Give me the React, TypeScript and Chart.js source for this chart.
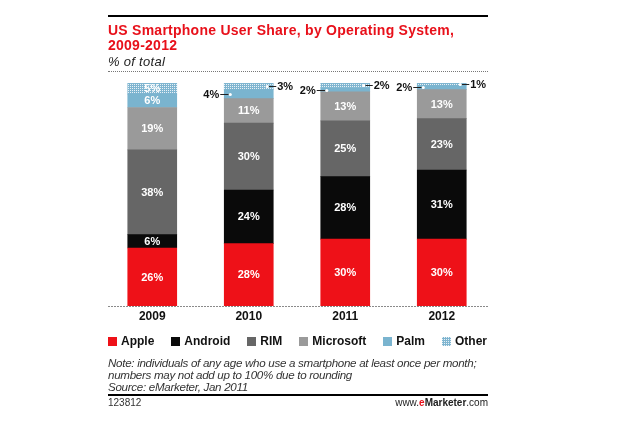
import React, { useEffect, useRef } from 'react';
import { Chart, registerables } from 'chart.js';

Chart.register(...registerables);

const years = ['2009', '2010', '2011', '2012'];
const apple = [26, 28, 30, 30];
const android = [6, 24, 28, 31];
const rim = [38, 30, 25, 23];
const microsoft = [19, 11, 13, 13];
const palm = [6, 4, 2, 2];
const other = [5, 3, 2, 1];
const seriesNames = ['Apple', 'Android', 'RIM', 'Microsoft', 'Palm', 'Other'];

const FONT = '"Liberation Sans", Arial, sans-serif';
const COLORS = ['#ee1118', '#0a0a0a', '#666666', '#9a9a9a', '#7ab4cf', 'pattern'];

function makePattern(): CanvasPattern | string {
  const c = document.createElement('canvas');
  c.width = 2;
  c.height = 2;
  const g = c.getContext('2d');
  if (!g) return '#a9cde0';
  g.fillStyle = '#7fb5d0';
  g.fillRect(0, 0, 2, 2);
  g.fillStyle = '#e8f1f6';
  g.fillRect(0, 0, 1, 1);
  return g.createPattern(c, 'repeat') || '#a9cde0';
}

const labelPlugin = {
  id: 'segLabels',
  afterDatasetsDraw(chart: any) {
    const ctx = chart.ctx as CanvasRenderingContext2D;
    ctx.save();
    // baseline
    ctx.strokeStyle = '#8a8a8a';
    ctx.lineWidth = 1;
    ctx.setLineDash([2, 1]);
    ctx.beginPath();
    ctx.moveTo(108, Math.round(chart.chartArea.bottom) + 0.5);
    ctx.lineTo(488, Math.round(chart.chartArea.bottom) + 0.5);
    ctx.stroke();
    ctx.setLineDash([]);

    ctx.font = `bold 11px ${FONT}`;
    ctx.textBaseline = 'middle';
    chart.data.datasets.forEach((ds: any, i: number) => {
      const meta = chart.getDatasetMeta(i);
      meta.data.forEach((el: any, j: number) => {
        const v = ds.data[j] as number;
        const { x, y, base, width } = el.getProps(['x', 'y', 'base', 'width'], true);
        const cy = (y + base) / 2;
        const left = x - width / 2;
        const right = x + width / 2;
        const text = v + '%';
        let side: string | null = null;
        if (v < 5) side = i === 4 ? 'left' : i === 5 ? 'right' : null;
        if (!side) {
          ctx.fillStyle = '#ffffff';
          ctx.textAlign = 'center';
          ctx.fillText(text, x, cy + 0.5);
          return;
        }
        ctx.strokeStyle = '#222';
        ctx.lineWidth = 1;
        ctx.fillStyle = '#111';
        const ly = Math.round(cy) + 0.5;
        if (side === 'left') {
          ctx.beginPath();
          ctx.moveTo(left - 4, ly);
          ctx.lineTo(left + 6, ly);
          ctx.stroke();
          ctx.textAlign = 'right';
          ctx.fillText(text, left - 5, cy + 1);
          ctx.fillStyle = '#fff';
          ctx.beginPath();
          ctx.arc(left + 6, ly, 1.6, 0, Math.PI * 2);
          ctx.fill();
        } else {
          ctx.beginPath();
          ctx.moveTo(right - 6, ly);
          ctx.lineTo(right + 3, ly);
          ctx.stroke();
          ctx.textAlign = 'left';
          ctx.fillText(text, right + 4, cy + 1);
          ctx.fillStyle = '#fff';
          ctx.beginPath();
          ctx.arc(right - 6, ly, 1.6, 0, Math.PI * 2);
          ctx.fill();
        }
      });
    });
    ctx.restore();
  },
};

export default function App() {
  const ref = useRef<HTMLCanvasElement | null>(null);

  useEffect(() => {
    if (!ref.current) return;
    const pattern = makePattern();
    const values = [apple, android, rim, microsoft, palm, other];
    const chart = new Chart(ref.current, {
      type: 'bar',
      data: {
        labels: years,
        datasets: seriesNames.map((name, i) => ({
          label: name,
          data: values[i],
          backgroundColor: COLORS[i] === 'pattern' ? (pattern as any) : COLORS[i],
          borderWidth: 0,
          barThickness: 49,
        })),
      },
      options: {
        responsive: false,
        animation: false,
        events: [],
        layout: { padding: { left: 104, right: 129, top: 83, bottom: 97.6 } },
        plugins: {
          legend: { display: false },
          tooltip: { enabled: false },
        },
        scales: {
          x: {
            stacked: true,
            grid: { display: false, drawTicks: false },
            border: { display: false },
            ticks: {
              padding: 3,
              color: '#111',
              font: { family: FONT, size: 12, weight: 'bold', lineHeight: 1.2 },
            },
          },
          y: {
            stacked: true,
            display: false,
            min: 0,
            max: 100,
          },
        },
      },
      plugins: [labelPlugin],
    } as any);
    return () => chart.destroy();
  }, []);

  const legendBox = (i: number): React.CSSProperties =>
    COLORS[i] === 'pattern'
      ? {
          width: 9,
          height: 9,
          marginRight: 4,
          backgroundColor: '#7fb5d0',
          backgroundImage:
            'linear-gradient(to bottom, transparent 1px, #7fb5d0 1px), linear-gradient(to right, #e8f1f6 1px, transparent 1px)',
          backgroundSize: '2px 2px',
        }
      : { width: 9, height: 9, marginRight: 4, background: COLORS[i] };

  return (
    <div
      style={{
        position: 'fixed',
        left: 0,
        top: 0,
        width: 619,
        height: 424,
        background: '#fff',
        fontFamily: FONT,
        overflow: 'hidden',
      }}
    >
      <canvas
        ref={ref}
        width={619}
        height={424}
        style={{ position: 'absolute', left: 0, top: 0, width: 619, height: 424 }}
      />
      <div style={{ position: 'absolute', left: 108, top: 15, width: 380, height: 2, background: '#000' }} />
      <div
        style={{
          position: 'absolute',
          left: 108,
          top: 22.5,
          fontSize: 14,
          fontWeight: 'bold',
          lineHeight: '15px',
          color: '#e8101a',
          letterSpacing: '0.25px',
          whiteSpace: 'pre',
        }}
      >
        {'US Smartphone User Share, by Operating System,\n2009-2012'}
      </div>
      <div
        style={{
          position: 'absolute',
          left: 108,
          top: 53.5,
          fontSize: 13,
          fontStyle: 'italic',
          lineHeight: '15px',
          color: '#222',
          letterSpacing: '0.3px',
          whiteSpace: 'pre',
        }}
      >
        % of total
      </div>
      <div style={{ position: 'absolute', left: 108, top: 71, width: 380, height: 0, borderTop: '1px dotted #777' }} />
      <div
        style={{
          position: 'absolute',
          left: 108,
          top: 334,
          height: 14,
          display: 'flex',
          alignItems: 'center',
          whiteSpace: 'pre',
        }}
      >
        {seriesNames.map((name, i) => (
          <div key={name} style={{ display: 'flex', alignItems: 'center', marginRight: 17 }}>
            <div style={legendBox(i)} />
            <span style={{ fontSize: 12, fontWeight: 'bold', color: '#111', lineHeight: '14px' }}>{name}</span>
          </div>
        ))}
      </div>
      <div
        style={{
          position: 'absolute',
          left: 108,
          top: 356.5,
          fontSize: 11.6,
          fontStyle: 'italic',
          lineHeight: '12px',
          color: '#333',
          letterSpacing: '-0.3px',
          whiteSpace: 'pre',
        }}
      >
        {'Note: individuals of any age who use a smartphone at least once per month;\nnumbers may not add up to 100% due to rounding\nSource: eMarketer, Jan 2011'}
      </div>
      <div style={{ position: 'absolute', left: 108, top: 394, width: 380, height: 2, background: '#000' }} />
      <div style={{ position: 'absolute', left: 108, top: 397, fontSize: 10, lineHeight: '12px', color: '#333' }}>
        123812
      </div>
      <div
        style={{
          position: 'absolute',
          right: 131,
          top: 397,
          fontSize: 10,
          lineHeight: '12px',
          color: '#222',
          whiteSpace: 'pre',
        }}
      >
        www.
        <span style={{ color: '#e8101a', fontWeight: 'bold' }}>e</span>
        <span style={{ fontWeight: 'bold' }}>Marketer</span>
        .com
      </div>
    </div>
  );
}
